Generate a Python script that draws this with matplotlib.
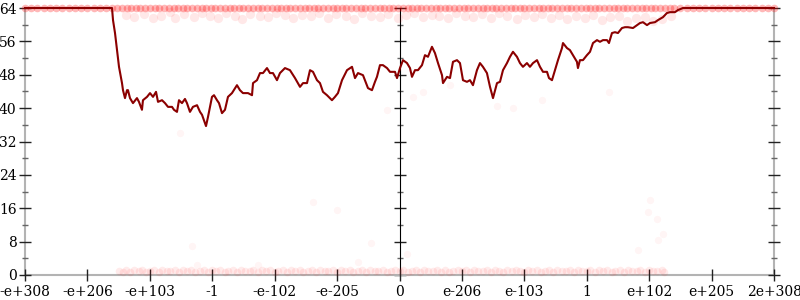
import matplotlib
matplotlib.use("Agg")
import matplotlib.pyplot as plt
from matplotlib.ticker import MultipleLocator, NullFormatter

# ---- data ----
tick_labels = ["-e+308", "-e+206", "-e+103", "-1", "-e-102", "-e-205", "0",
               "e-206", "e-103", "1", "e+102", "e+205", "2e+308"]
y_ticks = [0, 8, 16, 24, 32, 40, 48, 56, 64]

line_x = [0.0, 1.394, 1.410, 1.442, 1.474, 1.506, 1.554, 1.570, 1.602, 1.634, 1.650, 1.682,
          1.730, 1.794, 1.826, 1.874, 1.890, 1.955, 2.003, 2.051, 2.099, 2.131, 2.195, 2.243,
          2.291, 2.355, 2.387, 2.435, 2.467, 2.515, 2.563, 2.595, 2.643, 2.691, 2.756, 2.804,
          2.836, 2.900, 2.932, 2.996, 3.028, 3.076, 3.108, 3.156, 3.204, 3.252, 3.316, 3.396,
          3.444, 3.492, 3.573, 3.637, 3.653, 3.717, 3.765, 3.813, 3.877, 3.925, 3.973, 4.037,
          4.085, 4.165, 4.245, 4.326, 4.406, 4.454, 4.518, 4.566, 4.614, 4.678, 4.726, 4.774,
          4.838, 4.918, 4.966, 5.014, 5.079, 5.159, 5.239, 5.287, 5.335, 5.415, 5.495, 5.559,
          5.607, 5.639, 5.687, 5.735, 5.800, 5.848, 5.928, 5.960, 6.008, 6.056, 6.120, 6.168,
          6.200, 6.248, 6.296, 6.360, 6.408, 6.456, 6.520, 6.568, 6.617, 6.681, 6.697, 6.761,
          6.809, 6.857, 6.921, 6.969, 7.017, 7.081, 7.129, 7.177, 7.241, 7.289, 7.337, 7.401,
          7.450, 7.498, 7.562, 7.610, 7.658, 7.722, 7.770, 7.818, 7.882, 7.930, 7.978, 8.042,
          8.090, 8.139, 8.203, 8.251, 8.299, 8.363, 8.395, 8.443, 8.491, 8.539, 8.603, 8.619,
          8.683, 8.731, 8.779, 8.843, 8.859, 8.891, 8.939, 9.003, 9.052, 9.100, 9.164, 9.212,
          9.260, 9.324, 9.356, 9.404, 9.452, 9.500, 9.564, 9.612, 9.660, 9.741, 9.805, 9.853,
          9.901, 9.965, 10.013, 10.093, 10.141, 10.221, 10.285, 10.333, 10.413, 10.461, 10.542, 12.0]
line_y = [64, 64, 61.1, 58.0, 53.9, 49.9, 46.0, 44.3, 42.4, 44.3, 44.3, 42.4,
          41.2, 42.4, 41.5, 39.6, 41.9, 42.7, 43.6, 42.7, 43.9, 41.5, 41.9, 41.2,
          40.3, 40.3, 39.6, 39.1, 41.9, 41.2, 42.2, 41.2, 39.1, 40.3, 40.7, 39.1,
          38.4, 35.7, 37.9, 42.7, 43.1, 41.9, 41.2, 38.8, 39.6, 42.7, 43.6, 45.5,
          44.3, 43.6, 43.6, 43.1, 46.0, 46.7, 48.4, 48.4, 49.6, 48.4, 48.4, 46.7,
          48.4, 49.6, 49.1, 47.2, 45.1, 46.0, 46.0, 49.1, 48.7, 46.7, 46.0, 43.9,
          43.1, 41.9, 42.7, 43.6, 46.7, 49.1, 49.9, 47.2, 48.4, 47.9, 44.8, 44.3,
          46.3, 47.5, 50.3, 50.3, 49.6, 48.7, 48.7, 47.2, 49.6, 51.5, 50.8, 49.6,
          47.5, 49.1, 49.1, 50.3, 52.7, 52.3, 54.7, 53.2, 50.8, 47.9, 46.0, 47.5,
          47.2, 51.1, 51.5, 50.8, 46.7, 46.3, 46.7, 45.5, 49.1, 50.8, 49.9, 48.4,
          45.1, 42.4, 46.0, 46.3, 49.1, 50.8, 52.3, 53.5, 52.3, 50.8, 49.9, 50.8,
          49.9, 50.8, 51.5, 49.9, 48.7, 48.7, 47.2, 46.7, 49.1, 51.5, 54.4, 55.6,
          54.4, 53.9, 52.7, 51.1, 49.6, 51.5, 51.5, 52.7, 53.5, 55.6, 56.3, 55.9,
          56.3, 56.3, 55.6, 58.0, 58.2, 58.0, 59.2, 59.4, 59.4, 59.2, 59.9, 60.4,
          60.6, 59.9, 60.4, 60.6, 61.1, 61.8, 62.8, 63.0, 63.0, 63.5, 64, 64]

# samples at the top (error 64)
top_x = [0.0, 0.1, 0.2, 0.3, 0.4, 0.5, 0.6, 0.7, 0.8, 0.9, 1.0, 1.1, 1.2, 1.3, 1.4, 1.48,
         1.55, 1.63, 1.7, 1.78, 1.85, 1.93, 2.0, 2.08, 2.15, 2.23, 2.3, 2.38, 2.45, 2.53,
         2.6, 2.68, 2.75, 2.83, 2.9, 2.98, 3.05, 3.13, 3.2, 3.28, 3.35, 3.43, 3.5, 3.58,
         3.65, 3.73, 3.8, 3.88, 3.95, 4.03, 4.1, 4.18, 4.25, 4.33, 4.4, 4.48, 4.55, 4.63,
         4.7, 4.78, 4.85, 4.93, 5.0, 5.08, 5.15, 5.23, 5.3, 5.38, 5.45, 5.53, 5.6, 5.68,
         5.75, 5.83, 5.9, 5.98, 6.05, 6.13, 6.2, 6.28, 6.35, 6.43, 6.5, 6.58, 6.65, 6.73,
         6.8, 6.88, 6.95, 7.03, 7.1, 7.18, 7.25, 7.33, 7.4, 7.48, 7.55, 7.63, 7.7, 7.78,
         7.85, 7.93, 8.0, 8.08, 8.15, 8.23, 8.3, 8.38, 8.45, 8.53, 8.6, 8.68, 8.75, 8.83,
         8.9, 8.98, 9.05, 9.13, 9.2, 9.28, 9.35, 9.43, 9.5, 9.58, 9.65, 9.73, 9.8, 9.88,
         9.95, 10.03, 10.1, 10.18, 10.25, 10.33, 10.4, 10.5, 10.6, 10.7, 10.8, 10.9, 11.0,
         11.1, 11.2, 11.3, 11.4, 11.5, 11.6, 11.7, 11.8, 11.9, 12.0]
# samples just under the top
near_top_x = [1.62, 1.75, 1.9, 2.05, 2.18, 2.33, 2.41, 2.55, 2.7, 2.83, 2.97, 3.1, 3.22, 3.37,
              3.48, 3.61, 3.77, 3.9, 4.02, 4.17, 4.3, 4.44, 4.58, 4.71, 4.86, 4.99, 5.14, 5.27,
              5.4, 5.55, 5.68, 5.82, 5.97, 6.1, 6.24, 6.38, 6.52, 6.64, 6.78, 6.91, 7.05, 7.18,
              7.32, 7.46, 7.6, 7.73, 7.88, 8.01, 8.15, 8.28, 8.42, 8.56, 8.69, 8.83, 8.97, 9.1,
              9.24, 9.38, 9.51, 9.65, 9.79, 9.93, 10.06, 10.2, 10.35]
near_top_y = [62.4, 61.8, 62.6, 61.5, 62.2, 63.0, 61.7, 62.5, 61.9, 62.8, 62.1, 61.6, 62.7,
              62.0, 61.4, 62.6, 62.2, 61.8, 62.9, 62.3, 61.5, 62.4, 62.0, 62.8, 61.7, 62.5,
              62.1, 61.4, 62.7, 62.2, 61.9, 62.6, 61.6, 62.3, 62.9, 61.8, 62.4, 62.0, 61.5,
              62.7, 62.2, 61.9, 62.5, 61.6, 62.8, 62.1, 61.4, 62.3, 61.9, 62.6, 61.7, 62.4,
              61.3, 62.0, 61.5, 62.3, 61.2, 61.8, 62.1, 61.0, 61.6, 61.9, 60.9, 61.4, 62.0]
# samples at the bottom (error ~0)
bottom_x = [1.5, 1.57, 1.62, 1.69, 1.75, 1.82, 1.88, 1.94, 2.0, 2.07, 2.14, 2.2, 2.27, 2.33,
            2.4, 2.47, 2.53, 2.6, 2.66, 2.73, 2.8, 2.86, 2.93, 3.0, 3.06, 3.13, 3.2, 3.26,
            3.33, 3.4, 3.46, 3.53, 3.6, 3.66, 3.73, 3.8, 3.86, 3.93, 4.0, 4.06, 4.13, 4.2,
            4.26, 4.33, 4.4, 4.46, 4.53, 4.6, 4.66, 4.73, 4.8, 4.86, 4.93, 5.0, 5.06, 5.13,
            5.2, 5.26, 5.33, 5.4, 5.46, 5.53, 5.6, 5.66, 5.73, 5.8, 5.86, 5.93, 6.0, 6.06,
            6.13, 6.2, 6.26, 6.33, 6.4, 6.46, 6.53, 6.6, 6.66, 6.73, 6.8, 6.86, 6.93, 7.0,
            7.06, 7.13, 7.2, 7.26, 7.33, 7.4, 7.46, 7.53, 7.6, 7.66, 7.73, 7.8, 7.86, 7.93,
            8.0, 8.06, 8.13, 8.2, 8.26, 8.33, 8.4, 8.46, 8.53, 8.6, 8.66, 8.73, 8.8, 8.86,
            8.93, 9.0, 9.06, 9.13, 9.2, 9.26, 9.33, 9.4, 9.46, 9.53, 9.6, 9.66, 9.73, 9.8,
            9.86, 9.93, 10.0, 10.06, 10.13, 10.2, 10.24]
bottom_y = [1.0, 0.8, 1.2, 0.7, 1.1, 0.9, 1.3, 0.8, 1.0, 1.2, 0.7, 1.1, 0.9, 1.0, 1.3, 0.8,
            1.1, 0.9, 1.2, 0.7, 1.0, 1.2, 0.8, 1.1, 0.9, 1.3, 0.8, 1.0, 1.2, 0.7, 1.1, 0.9,
            1.0, 1.3, 0.8, 1.1, 0.9, 1.2, 0.7, 1.0, 1.2, 0.8, 1.1, 0.9, 1.3, 0.8, 1.0, 1.2,
            0.7, 1.1, 0.9, 1.0, 1.3, 0.8, 1.1, 0.9, 1.2, 0.7, 1.0, 1.2, 0.8, 1.1, 0.9, 1.0,
            1.2, 0.8, 1.0, 1.1, 0.9, 1.2, 0.7, 1.0, 1.3, 0.8, 1.1, 0.9, 1.0, 1.2, 0.8, 1.1,
            0.7, 1.0, 1.2, 0.9, 1.1, 0.8, 1.3, 1.0, 0.9, 1.2, 0.7, 1.1, 1.0, 0.8, 1.2, 0.9,
            1.1, 1.0, 0.8, 1.3, 0.9, 1.1, 0.7, 1.0, 1.2, 0.8, 1.1, 0.9, 1.0, 1.2, 0.8, 1.1,
            0.9, 1.0, 1.3, 0.8, 1.1, 0.9, 1.2, 0.7, 1.0, 1.2, 0.8, 1.1, 0.9, 1.0, 1.2, 0.8,
            1.1, 0.9, 1.0, 1.2, 0.8]
# sparse samples in between
mid_x = [2.48, 5.80, 6.22, 6.38, 6.81, 7.56, 7.82, 8.28, 9.36, 5.54, 6.12, 5.33, 5.00, 4.61,
         10.01, 9.98, 10.12, 10.22, 10.14, 9.82, 2.68, 2.76, 3.73]
mid_y = [34.0, 39.6, 42.7, 43.9, 45.5, 40.5, 40.0, 42.0, 43.9, 7.7, 5.0, 3.1, 15.6, 17.5,
         18.0, 15.1, 13.4, 9.8, 8.4, 6.0, 7.0, 2.4, 2.4]

# ---- plot ----
plt.rcParams["font.family"] = ["DejaVu Serif"]
fig = plt.figure(figsize=(8, 3), dpi=100)
ax = fig.add_axes([25 / 800, 25 / 300, 749 / 800, 267 / 300])

nb = min(len(bottom_x), len(bottom_y))
pt_kw = dict(color="red", linewidths=0, clip_on=False, zorder=2)
ax.scatter(top_x, [64] * len(top_x), s=30, alpha=0.28, **pt_kw)
ax.scatter(near_top_x, near_top_y, s=45, alpha=0.09, **pt_kw)
ax.scatter(bottom_x[:nb], bottom_y[:nb], s=30, alpha=0.08, **pt_kw)
ax.scatter(mid_x, mid_y, s=28, alpha=0.04, **pt_kw)

ax.plot(line_x, line_y, color="#8b0000", lw=1.5, zorder=4, clip_on=False,
        solid_joinstyle="round")

ax.set_xlim(0, 12)
ax.set_ylim(0, 64)

gray = "#b3b3b3"
ax.spines["top"].set_visible(False)
for s in ["left", "right", "bottom"]:
    ax.spines[s].set_color(gray)
    ax.spines[s].set_linewidth(1.5)
    ax.spines[s].set_zorder(1)

ax.set_xticks(range(len(tick_labels)))
ax.set_xticklabels(tick_labels)
ax.set_yticks(y_ticks)
ax.yaxis.set_minor_locator(MultipleLocator(4))
ax.tick_params(axis="both", which="major", direction="inout", length=8, width=1,
               color="#222222", labelsize=10, pad=2)
ax.tick_params(axis="y", which="major", right=True, labelright=False)
ax.tick_params(axis="y", which="minor", direction="inout", length=4, width=1,
               color="#666666", right=True)
ax.tick_params(axis="x", which="major", pad=3)

# middle vertical axis at 0
sec = ax.secondary_yaxis(0.5)
sec.spines["left"].set_color(gray)
sec.spines["left"].set_linewidth(1.5)
sec.set_yticks(y_ticks)
sec.yaxis.set_major_formatter(NullFormatter())
sec.yaxis.set_minor_locator(MultipleLocator(4))
sec.yaxis.set_minor_formatter(NullFormatter())
sec.tick_params(which="major", direction="inout", length=8, width=1, color="#222222")
sec.tick_params(which="minor", direction="inout", length=4, width=1, color="#666666")

fig.savefig("out.png", dpi=100)
